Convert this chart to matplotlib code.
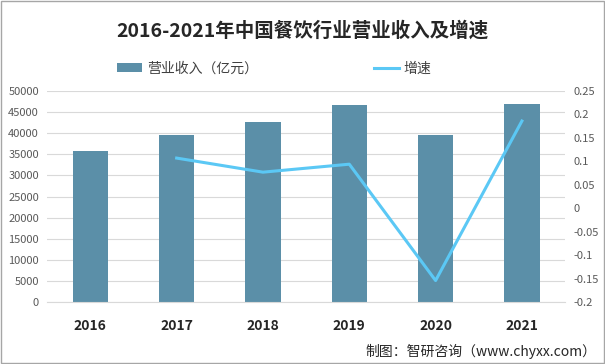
import matplotlib.pyplot as plt
import numpy as np

plt.rcParams['font.family'] = ['Noto Sans CJK SC', 'DejaVu Sans']

years = ['2016', '2017', '2018', '2019', '2020', '2021']
revenue = [35799, 39644, 42716, 46721, 39527, 46895]
growth_years = ['2017', '2018', '2019', '2020', '2021']
growth = [0.107, 0.077, 0.094, -0.154, 0.186]

bar_color = '#5b8fa8'
line_color = '#5bc8f5'
tick_color = '#595959'

fig = plt.figure(figsize=(6.05, 3.64), dpi=100)
ax = fig.add_axes([0.078, 0.170, 0.856, 0.580])
twin = ax.twinx()

x = np.arange(len(years))
bars = ax.bar(x, revenue, width=0.41, color=bar_color, zorder=2, label='营业收入（亿元）')
gx = [years.index(y) for y in growth_years]
ln, = twin.plot(gx, growth, color=line_color, lw=2.2, label='增速', zorder=3)

ax.set_ylim(0, 50000)
ax.set_yticks(np.arange(0, 50001, 5000))
twin.set_ylim(-0.2, 0.25)
twin.set_yticks([0.25, 0.2, 0.15, 0.1, 0.05, 0, -0.05, -0.1, -0.15, -0.2])
twin.set_yticklabels(['0.25', '0.2', '0.15', '0.1', '0.05', '0', '-0.05', '-0.1', '-0.15', '-0.2'])
ax.set_xlim(-0.5, len(years) - 0.5)
ax.set_xticks(x)
ax.set_xticklabels(years, fontsize=10, fontweight='bold', color='#262626')

ax.grid(axis='y', color='#d9d9d9', lw=0.8, zorder=0)
for a in (ax, twin):
    for s in a.spines.values():
        s.set_visible(False)
    a.tick_params(length=0, labelsize=8, labelcolor=tick_color)
ax.spines['bottom'].set_visible(True)
ax.spines['bottom'].set_color('#d9d9d9')
ax.tick_params(axis='x', pad=12, labelsize=10, labelcolor='#262626')
ax.tick_params(axis='y', pad=6)
twin.tick_params(axis='y', pad=6)

fig.text(0.5, 0.915, '2016-2021年中国餐饮行业营业收入及增速', ha='center', va='center',
         fontsize=14, fontweight='bold', color='#262626')
fig.legend(handles=[bars], loc='center', bbox_to_anchor=(0.31, 0.812), frameon=False,
           fontsize=10, handlelength=1.8, handleheight=0.7, handletextpad=0.3, labelcolor='#404040')
fig.legend(handles=[ln], loc='center', bbox_to_anchor=(0.665, 0.812), frameon=False,
           fontsize=10, handlelength=1.8, handletextpad=0.3, labelcolor='#404040')
fig.text(0.985, 0.035, '制图：智研咨询（www.chyxx.com）', ha='right', va='center',
         fontsize=10, color='#262626')

fig.patches.append(plt.Rectangle((0.002, 0.003), 0.996, 0.994, transform=fig.transFigure,
                                 fill=False, edgecolor='#a6a6a6', lw=1))

fig.savefig('out.png', dpi=100)
